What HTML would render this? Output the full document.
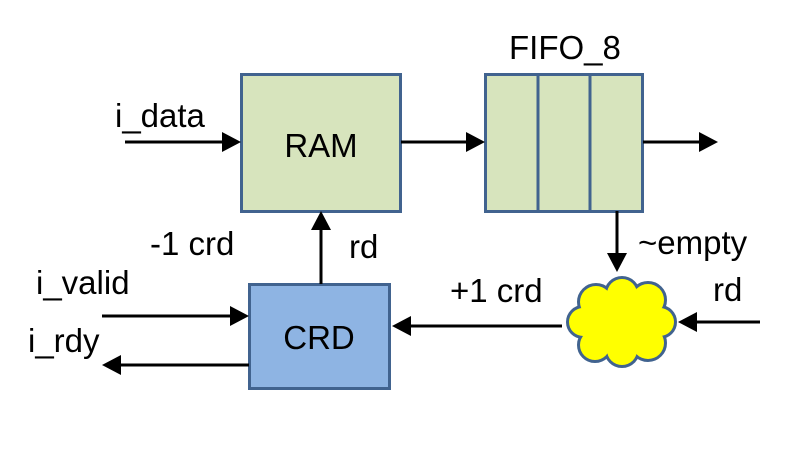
<!DOCTYPE html>
<html><head><style>
html,body{margin:0;padding:0;background:#fff;}
svg text{font-family:"Liberation Sans",sans-serif;font-size:33px;fill:#000;}
</style></head><body>
<svg width="798" height="446" viewBox="0 0 798 446" xmlns="http://www.w3.org/2000/svg">
<g fill="#d7e4bd" stroke="#41638f" stroke-width="3">
<rect x="241.5" y="74.5" width="159" height="137"/>
<rect x="485.5" y="74.5" width="157" height="137"/>
<line x1="538" y1="74" x2="538" y2="211"/>
<line x1="590" y1="74" x2="590" y2="211"/>
</g>
<rect x="249.5" y="284.5" width="140" height="104" fill="#8eb4e3" stroke="#41638f" stroke-width="3"/>
<g stroke="#41638f" stroke-width="6" fill="#ffff00">
<circle cx="596" cy="302" r="16"/><circle cx="622" cy="294" r="15"/><circle cx="648" cy="300" r="16"/>
<circle cx="660" cy="322" r="14"/><circle cx="648" cy="343" r="16"/><circle cx="622" cy="350" r="15"/>
<circle cx="595" cy="345" r="15"/><circle cx="583" cy="322" r="14"/>
</g>
<g fill="#ffff00">
<circle cx="596" cy="302" r="16"/><circle cx="622" cy="294" r="15"/><circle cx="648" cy="300" r="16"/>
<circle cx="660" cy="322" r="14"/><circle cx="648" cy="343" r="16"/><circle cx="622" cy="350" r="15"/>
<circle cx="595" cy="345" r="15"/><circle cx="583" cy="322" r="14"/>
<ellipse cx="621" cy="322" rx="40" ry="28"/>
</g>
<g stroke="#000" stroke-width="3" fill="none">
<line x1="125" y1="142" x2="225" y2="142"/>
<line x1="401" y1="142" x2="470" y2="142"/>
<line x1="643" y1="142" x2="702" y2="142"/>
<line x1="617" y1="211" x2="617" y2="256"/>
<line x1="760" y1="322" x2="694" y2="322"/>
<line x1="562" y1="326" x2="408" y2="326"/>
<line x1="102" y1="316" x2="233" y2="316"/>
<line x1="249" y1="365" x2="118" y2="365"/>
<line x1="321" y1="284" x2="321" y2="227"/>
</g>
<g fill="#000">
<polygon points="241,142 222,132 222,152"/>
<polygon points="485,142 466,132 466,152"/>
<polygon points="718,142 699,132 699,152"/>
<polygon points="617,272 607,253 627,253"/>
<polygon points="678,322 697,312 697,332"/>
<polygon points="392,326 411,316 411,336"/>
<polygon points="249,316 230,306 230,326"/>
<polygon points="102,365 121,355 121,375"/>
<polygon points="321,211 311,230 331,230"/>
</g>
<text x="115" y="127">i_data</text>
<text x="321" y="157" text-anchor="middle">RAM</text>
<text x="509" y="59">FIFO_8</text>
<text x="150" y="255">-1 crd</text>
<text x="349" y="258">rd</text>
<text x="36" y="294">i_valid</text>
<text x="28" y="352">i_rdy</text>
<text x="319" y="349" text-anchor="middle">CRD</text>
<text x="450" y="302">+1 crd</text>
<text x="638" y="254">~empty</text>
<text x="713" y="301">rd</text>
</svg>
</body></html>
